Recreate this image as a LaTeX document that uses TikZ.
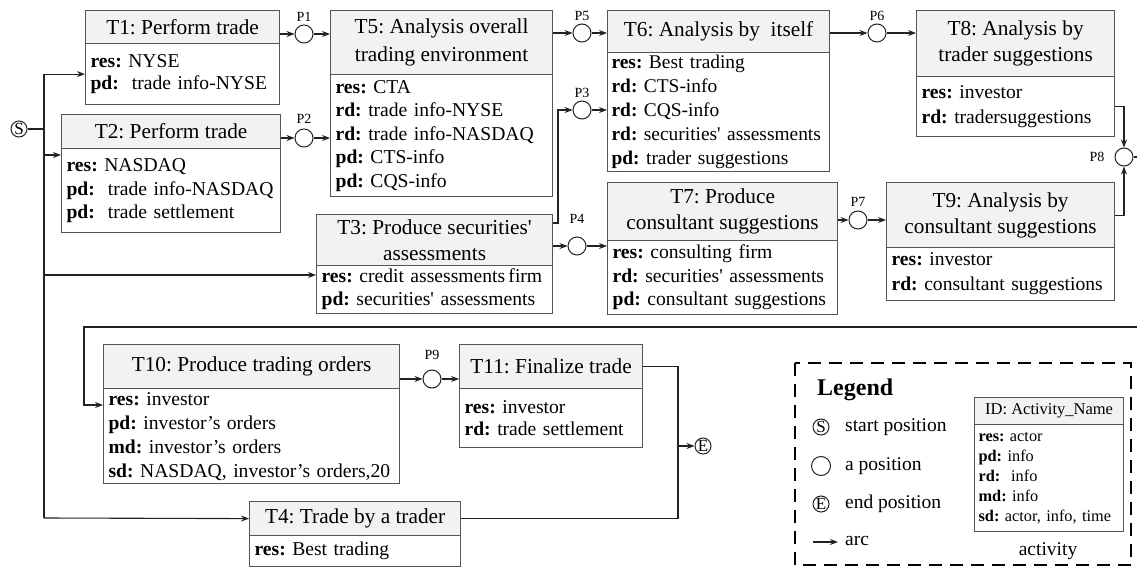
\documentclass[tikz,border=0pt]{standalone}
\usepackage{fontspec}
\setmainfont{Liberation Serif}
\usetikzlibrary{arrows.meta}
\definecolor{hdrfill}{HTML}{F2F2F2}
\definecolor{edgec}{HTML}{555555}
\definecolor{wirec}{HTML}{222222}
\newcommand{\kw}[1]{\textbf{#1}}
\newcommand{\apo}{\textquotesingle}
\frenchspacing
\hyphenpenalty=10000
\exhyphenpenalty=10000
\begin{document}
\begin{tikzpicture}[x=1pt,y=-1pt,
  hdr/.style={draw=edgec, line width=1.2pt, fill=hdrfill, anchor=north west, inner sep=0pt, align=center, font=\fontsize{21.3}{26}\selectfont},
  bdy/.style={draw=edgec, line width=1.2pt, fill=white, anchor=north west, inner xsep=5pt, inner ysep=0pt, align=left, font=\fontsize{19.6}{23.5}\selectfont},
  plc/.style={circle, draw=wirec, line width=1pt, minimum size=18pt, inner sep=0pt, fill=white},
  termc/.style={circle, draw=wirec, line width=1pt, minimum size=16pt, inner sep=0pt, font=\fontsize{17}{17}\selectfont},
  plabel/.style={font=\fontsize{14}{14}\selectfont, inner sep=0pt},
  conn/.style={draw=wirec, line width=1.1pt, -{Stealth[length=8pt,width=6pt]}},
  wire/.style={draw=wirec, line width=1.1pt},
  lgtext/.style={anchor=west, inner sep=0pt, font=\fontsize{19.5}{19.5}\selectfont},
]
\useasboundingbox (0,0) rectangle (1137,567);

% ---- tasks ----
\node[hdr, minimum width=194pt, minimum height=33pt] (t1h) at (85,10) {T1: Perform trade};
\node[bdy, text width=184pt, minimum height=61pt, font=\fontsize{19.6}{21.5}\selectfont] (t1b) at (85,43) {\kw{res:} NYSE\\\kw{pd:}\ \ trade info-NYSE};

\node[hdr, minimum width=219pt, minimum height=34pt] (t2h) at (61,114) {T2: Perform trade};
\node[bdy, text width=209pt, minimum height=84pt] (t2b) at (61,148) {\kw{res:} NASDAQ\\\kw{pd:}\ \ trade info-NASDAQ\\\kw{pd:}\ \ trade settlement};

\node[hdr, minimum width=222pt, minimum height=64pt, font=\fontsize{21.3}{28.5}\selectfont] (t5h) at (330,10) {T5: Analysis overall\\trading environment};
\node[bdy, text width=212pt, minimum height=122pt] (t5b) at (330,74) {\kw{res:} CTA\\\kw{rd:} trade info-NYSE\\\kw{rd:} trade info-NASDAQ\\\kw{pd:} CTS-info\\\kw{pd:} CQS-info};

\node[hdr, minimum width=236pt, minimum height=51pt] (t3h) at (316,214) {T3: Produce securities\apo\\assessments};
\node[bdy, text width=226pt, minimum height=48pt, font=\fontsize{19.6}{23}\selectfont] (t3b) at (316,265) {\kw{res:} credit assessments\,firm\\\kw{pd:} securities\apo\ assessments};

\node[hdr, minimum width=222pt, minimum height=42pt] (t6h) at (607,10) {T6: Analysis by\ \ itself};
\node[bdy, text width=214pt, inner xsep=4pt, minimum height=119pt, font=\fontsize{19.4}{24}\selectfont] (t6b) at (607,52) {\kw{res:} Best trading\\\kw{rd:} CTS-info\\\kw{rd:} CQS-info\\\kw{rd:} securities\apo\ assessments\\\kw{pd:} trader suggestions};

\node[hdr, minimum width=230pt, minimum height=58pt] (t7h) at (607,182) {T7: Produce\\consultant suggestions};
\node[bdy, text width=220pt, minimum height=74pt] (t7b) at (607,240) {\kw{res:} consulting firm\\\kw{rd:} securities\apo\ assessments\\\kw{pd:} consultant suggestions};

\node[hdr, minimum width=198pt, minimum height=66pt] (t8h) at (916,10) {T8: Analysis by\\trader suggestions};
\node[bdy, text width=188pt, minimum height=60pt, font=\fontsize{19.6}{25}\selectfont] (t8b) at (916,76) {\kw{res:} investor\\\kw{rd:} tradersuggestions};

\node[hdr, minimum width=228pt, minimum height=65pt] (t9h) at (886,182) {T9: Analysis by\\consultant suggestions};
\node[bdy, text width=218pt, minimum height=53pt, font=\fontsize{19.6}{25}\selectfont] (t9b) at (886,247) {\kw{res:} investor\\\kw{rd:} consultant suggestions};

\node[hdr, minimum width=296pt, minimum height=44pt] (t10h) at (103,344) {T10: Produce trading orders};
\node[bdy, text width=286pt, minimum height=95pt, font=\fontsize{19.6}{24}\selectfont] (t10b) at (103,388) {\kw{res:} investor\\\kw{pd:} investor’s orders\\\kw{md:} investor’s orders\\\kw{sd:} NASDAQ, investor’s orders,20};

\node[hdr, minimum width=183pt, minimum height=44pt] (t11h) at (459,344) {T11: Finalize trade};
\node[bdy, text width=173pt, minimum height=59pt, font=\fontsize{19.6}{22}\selectfont] (t11b) at (459,388) {\kw{res:} investor\\\kw{rd:} trade settlement};

\node[hdr, minimum width=211pt, minimum height=34pt] (t4h) at (249,501) {T4: Trade by a trader};
\node[bdy, text width=201pt, minimum height=31pt] (t4b) at (249,535) {\kw{res:} Best trading};

% ---- positions ----
\node[termc] (s) at (19,129) {S};
\node[plc] (p1) at (304,34) {};
\node[plc] (p2) at (304,138) {};
\node[plc] (p5) at (582,33) {};
\node[plc] (p3) at (582,110) {};
\node[plc] (p4) at (577,246) {};
\node[plc] (p6) at (877,33) {};
\node[plc] (p7) at (858,220) {};
\node[plc] (p8) at (1124,157) {};
\node[plc] (p9) at (432,379) {};
\node[termc] (e) at (703,446) {E};

\node[plabel] (lp1) at (304,17) {P1};
\node[plabel] (lp2) at (304,119) {P2};
\node[plabel] (lp5) at (582,16) {P5};
\node[plabel] (lp3) at (582,93) {P3};
\node[plabel] (lp4) at (577,219) {P4};
\node[plabel] (lp6) at (877,16) {P6};
\node[plabel] (lp7) at (858,202) {P7};
\node[plabel] (lp8) at (1097,157) {P8};
\node[plabel] (lp9) at (432,355) {P9};

% ---- helper coordinates ----
\coordinate (sbus) at (44,129);
\coordinate (sbot) at (44,518);
\coordinate (t2in) at (61,155);
\coordinate (t3in) at (316,275);
\coordinate (c3) at (558,223);
\coordinate (r1) at (1146,157);
\coordinate (r2) at (1146,327);
\coordinate (r3) at (84,327);
\coordinate (t10in) at (103,405);
\coordinate (ej) at (678,446);

% ---- connectors ----
\draw[wire] (s.east) -- (sbus);
\draw[wire] (sbus) -- (sbot);
\draw[conn] (sbus) |- (t1b.west);
\draw[conn] (sbus) |- (t2in);
\draw[conn] (sbus) |- (t3in);
\draw[conn] (sbot) -- (t4h.west);

\draw[conn] (t1h.east |- p1) -- (p1.west);
\draw[conn] (p1.east) -- (p1 -| t5h.west);
\draw[conn] (t2h.east |- p2) -- (p2.west);
\draw[conn] (p2.east) -- (p2 -| t5b.west);
\draw[conn] (t5h.east |- p5) -- (p5.west);
\draw[conn] (p5.east) -- (p5 -| t6h.west);
\draw[conn] (t3h.east |- c3) -- (c3) |- (p3.west);
\draw[conn] (p3.east) -- (p3 -| t6b.west);
\draw[conn] (t3h.east |- p4) -- (p4.west);
\draw[conn] (p4.east) -- (p4 -| t7b.west);
\draw[conn] (t6h.east |- p6) -- (p6.west);
\draw[conn] (p6.east) -- (p6 -| t8h.west);
\draw[conn] (t7h.east |- p7) -- (p7.west);
\draw[conn] (p7.east) -- (p7 -| t9h.west);
\draw[conn] (t8b.east) -| (p8.north);
\draw[conn] (t9h.east) -| (p8.south);
\draw[conn] (p8.east) -- (r1) -- (r2) -- (r3) |- (t10in);
\draw[conn] (t10h.east |- p9) -- (p9.west);
\draw[conn] (p9.east) -- (p9 -| t11h.west);
\draw[wire] (t11h.east) -| (ej);
\draw[wire] (t4h.east) -| (ej);
\draw[conn] (ej) -- (e.west);

% ---- legend ----
\draw[draw=black, line width=1.8pt, dash pattern=on 13pt off 8pt] (795,363) rectangle (1131,565);
\node[anchor=west, inner sep=0pt, font=\bfseries\fontsize{24}{24}\selectfont] (lgt) at (817,390) {Legend};
\node[termc] (ls) at (821,427) {S};
\node[lgtext] (lst) at (845,427) {start position};
\node[plc, minimum size=19pt] (lp) at (821,466) {};
\node[lgtext] (lpt) at (845,466) {a position};
\node[termc] (le) at (821,504) {E};
\node[lgtext] (let) at (845,504) {end position};
\coordinate (la1) at (813,542);
\coordinate (la2) at (838,542);
\draw[conn] (la1) -- (la2);
\node[lgtext] (lat) at (845,541) {arc};
\node[hdr, minimum width=149pt, minimum height=27pt, font=\fontsize{16.5}{20}\selectfont] (lah) at (974,397) {ID: Activity\_Name};
\node[bdy, text width=141pt, inner xsep=4pt, minimum height=107pt, font=\fontsize{16.3}{20}\selectfont] (lab) at (974,424) {\kw{res:} actor\\\kw{pd:} info\\\kw{rd:}\ \ info\\\kw{md:} info\\\kw{sd:} actor, info, time};
\node[inner sep=0pt, font=\fontsize{19.5}{19.5}\selectfont] (lact) at (1048,551) {activity};
\end{tikzpicture}
\end{document}
